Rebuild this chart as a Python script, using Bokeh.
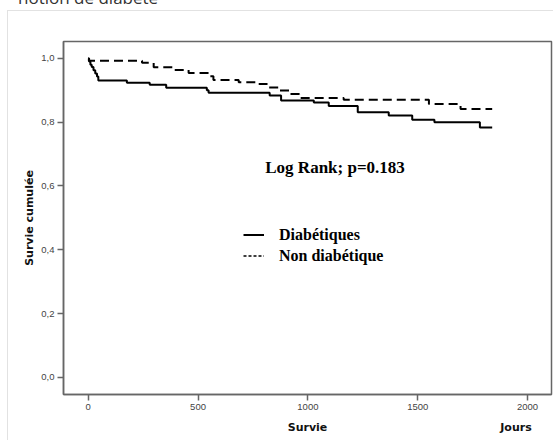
from bokeh.plotting import figure
from bokeh.layouts import column
from bokeh.models import (FixedTicker, CustomJSTickFormatter, Label, Legend, LegendItem, Div)
from bokeh.embed import file_html
from bokeh.resources import INLINE

# --- data (Kaplan-Meier steps) ---
diab_days = [0, 4, 10, 16, 24, 32, 40, 46, 176, 280, 355, 540, 548, 826, 878,
             1027, 1095, 1227, 1368, 1475, 1576, 1783, 1839]
diab_surv = [1.0, 0.99, 0.98, 0.973, 0.963, 0.953, 0.943, 0.931, 0.924, 0.917,
             0.908, 0.90, 0.892, 0.884, 0.868, 0.862, 0.851, 0.831, 0.821,
             0.808, 0.800, 0.783, 0.783]

nondiab_days = [0, 3, 245, 298, 389, 457, 556, 570, 685, 761, 814, 870, 920,
                960, 1163, 1551, 1695, 1839]
nondiab_surv = [1.0, 0.993, 0.986, 0.972, 0.964, 0.954, 0.944, 0.932, 0.925,
                0.920, 0.909, 0.899, 0.888, 0.876, 0.870, 0.857, 0.841, 0.841]

x_ticks = [0, 500, 1000, 1500, 2000]
y_ticks = [0.0, 0.2, 0.4, 0.6, 0.8, 1.0]

series_labels = ["Diabétiques", "Non diabétique"]
annotation_text = "Log Rank; p=0.183"
unit_text = "Jours"
caption_text = "notion de diabète"

AX = "#666666"
NAN = float("nan")

caption = Div(text=caption_text, width=300, height=24,
              styles={"font-family": "Open Sans", "font-size": "17px", "color": "#333333",
                      "line-height": "24px", "margin-top": "-14px", "margin-left": "18px",
                      "white-space": "nowrap"})

p = figure(width=546, height=430, output_backend="svg", toolbar_location=None,
           x_range=(-112.5, 2109), y_range=(-0.054, 1.053),
           min_border_left=55, min_border_right=3, min_border_top=30,
           min_border_bottom=47)
p.styles = {"border-left": "1px solid #e2e2e2", "border-top": "1px solid #e2e2e2",
            "margin-left": "7px", "margin-top": "-5px"}

p.background_fill_color = "white"
p.border_fill_color = "white"
p.outline_line_color = AX
p.outline_line_width = 1.5
p.xgrid.visible = False
p.ygrid.visible = False

for ax in (p.xaxis[0], p.yaxis[0]):
    ax.axis_line_color = AX
    ax.axis_line_width = 1.5
    ax.major_tick_line_color = AX
    ax.major_tick_line_width = 1.5
    ax.major_tick_in = 0
    ax.major_tick_out = 6
    ax.minor_tick_line_color = None
    ax.major_label_text_font = "Liberation Sans"
    ax.major_label_text_font_size = "9.5px"
    ax.major_label_text_color = "#444444"
    ax.axis_label_text_font = "DejaVu Sans"
    ax.axis_label_text_font_style = "bold"
    ax.axis_label_text_font_size = "11px"
    ax.axis_label_text_color = "#111111"

p.xaxis.ticker = FixedTicker(ticks=x_ticks)
p.yaxis.ticker = FixedTicker(ticks=y_ticks)
p.yaxis.formatter = CustomJSTickFormatter(code="return tick.toFixed(1).replace('.', ',');")
p.xaxis.axis_label = "Survie"
p.yaxis.axis_label = "Survie cumulée"
p.xaxis.major_label_standoff = 3
p.yaxis.major_label_standoff = 3
p.xaxis.axis_label_standoff = 8
p.yaxis.axis_label_standoff = 2

p.step(diab_days, diab_surv, mode="after", line_color="black", line_width=2)
p.step(nondiab_days, nondiab_surv, mode="after", line_color="black", line_width=2,
       line_dash="9 5")

# legend sample renderers (a single NaN point: drawn only in the legend)
r1 = p.line(x=[NAN], y=[NAN], line_color="black", line_width=2)
r2 = p.line(x=[NAN], y=[NAN], line_color="black", line_width=1.5, line_dash="3 2")

legend = Legend(items=[LegendItem(label=series_labels[0], renderers=[r1]),
                       LegendItem(label=series_labels[1], renderers=[r2])],
                location=(180, 128), orientation="vertical",
                glyph_width=21, glyph_height=21, label_height=21, label_standoff=15,
                spacing=0, padding=0, margin=0,
                label_text_font="Liberation Serif", label_text_font_style="bold",
                label_text_font_size="16px", label_text_color="black",
                border_line_alpha=0, background_fill_alpha=0)
p.add_layout(legend, "center")

p.add_layout(Label(x=806, y=0.658, text=annotation_text, text_font="Liberation Serif",
                   text_font_style="bold", text_font_size="17px", text_color="black",
                   text_baseline="middle", text_align="left"))

# unit label sitting in the bottom margin, right of the axis title
units = Div(text=unit_text, width=40, height=14,
            styles={"font-family": "DejaVu Sans", "font-weight": "bold", "font-size": "11px",
                    "color": "#111111", "line-height": "14px", "text-align": "center",
                    "margin-top": "-19px", "margin-left": "496px",
                    "position": "relative", "z-index": "10"})

layout = column(caption, p, units, spacing=0)
open("out.html", "w").write(file_html(layout, INLINE))
